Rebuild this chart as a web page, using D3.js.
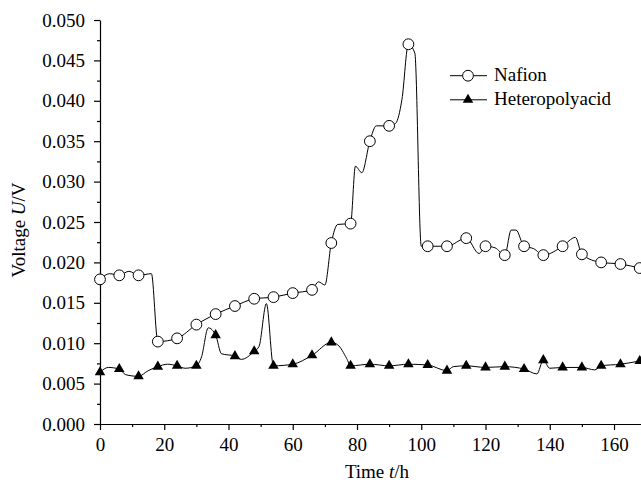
<!DOCTYPE html>
<html>
<head>
<meta charset="utf-8">
<script src="https://cdn.jsdelivr.net/npm/d3@7"></script>
<style>
body{margin:0;background:#fff}
svg{display:block}
</style>
</head>
<body>
<div id="chart"></div>
<script>
// line points, markers drawn every 6 h
var nafionTime = [0,3,6,9,12,16,18,24,30,36,42,48,54,60,66,68,70,72,74,78,79.5,81.5,84,86,90,92,94,96,98,100,102,108,114,118,120,123,126,128,129.5,132,135,138,144,148,150,156,162,168]
var nafionVolt = [0.0179,0.0186,0.0184,0.0189,0.0184,0.0186,0.0102,0.0106,0.0123,0.0136,0.0146,0.0155,0.0157,0.0162,0.0166,0.0176,0.0172,0.0224,0.0247,0.0248,0.0319,0.0311,0.0350,0.0369,0.0369,0.0372,0.0402,0.0470,0.0459,0.0220,0.0220,0.0220,0.0230,0.0211,0.0220,0.0218,0.0209,0.0240,0.0240,0.0220,0.0217,0.0209,0.0220,0.0231,0.0210,0.0200,0.0198,0.0193]
var hpaTime = [0,2.6,6,8,12,15,18,21,24,26.5,30,31.6,33.7,36,37.8,42,44,48,49.5,51.8,54,60,66,72,74,76.8,78,84,90,96,102,108,110,114,120,126,132,136,138,140,144,150,154,156,162,168]
var hpaVolt = [0.0064,0.0070,0.0068,0.0061,0.0059,0.0066,0.0071,0.0074,0.0072,0.0069,0.0072,0.0083,0.0119,0.0110,0.0087,0.0084,0.0080,0.0090,0.0096,0.0149,0.0072,0.0074,0.0085,0.0101,0.0098,0.0081,0.0072,0.0074,0.0072,0.0074,0.0073,0.0066,0.0071,0.0072,0.0070,0.0071,0.0068,0.0062,0.0079,0.0069,0.0070,0.0070,0.0067,0.0072,0.0074,0.0078]
var seriesNames = ["Nafion","Heteropolyacid"]
var xTicks = [0,20,40,60,80,100,120,140,160]
var yTicks = [0,0.005,0.010,0.015,0.020,0.025,0.030,0.035,0.040,0.045,0.050]

var W = 641, H = 482
var m = {l:100, t:20, r:0, b:58}
var fs = "19px"
var ff = "'Liberation Serif', 'Times New Roman', 'DejaVu Serif', serif"

var svg = d3.select("#chart").append("svg").attr("width",W).attr("height",H)

var x = d3.scaleLinear().domain([0,168.4]).range([m.l, W-m.r])
var y = d3.scaleLinear().domain([0,0.05]).range([H-m.b, m.t])

function zip(ts,vs){ return ts.map(function(t,i){ return [t,vs[i]] }) }
var nafion = zip(nafionTime,nafionVolt)
var hpa = zip(hpaTime,hpaVolt)

// axes
var xMinor = d3.range(10,168,20)
var yMinor = d3.range(0.0025,0.05,0.005)

var gx = svg.append("g").attr("transform","translate(0,"+(H-m.b)+")")
gx.call(d3.axisBottom(x).tickValues(xTicks).tickSize(6).tickSizeOuter(0).tickFormat(d3.format("d")))
gx.append("g").call(d3.axisBottom(x).tickValues(xMinor).tickSize(3).tickFormat("")).select(".domain").remove()
gx.selectAll("text").attr("y",14)

var gy = svg.append("g").attr("transform","translate("+m.l+",0)")
gy.call(d3.axisLeft(y).tickValues(yTicks).tickSize(6).tickSizeOuter(0).tickFormat(d3.format(".3f")))
gy.append("g").call(d3.axisLeft(y).tickValues(yMinor).tickSize(3).tickFormat("")).select(".domain").remove()
gy.selectAll("text").attr("x",-15)

svg.selectAll(".domain, .tick line").attr("stroke","#000").attr("stroke-width",1.2)

// titles
var xt = svg.append("text").attr("x",377).attr("y",478).attr("text-anchor","middle")
xt.append("tspan").text("Time ")
xt.append("tspan").style("font-style","italic").text("t")
xt.append("tspan").text("/h")

var yt = svg.append("text").attr("transform","translate(25,230) rotate(-90)").attr("text-anchor","middle")
yt.append("tspan").text("Voltage ")
yt.append("tspan").style("font-style","italic").text("U")
yt.append("tspan").text("/V")

// lines
var line = d3.line().x(function(d){return x(d[0])}).y(function(d){return y(d[1])}).curve(d3.curveMonotoneX)

svg.append("path").datum(hpa).attr("d",line).attr("fill","none").attr("stroke","#000").attr("stroke-width",1)
svg.append("path").datum(nafion).attr("d",line).attr("fill","none").attr("stroke","#000").attr("stroke-width",1)

var tri = d3.symbol().type(d3.symbolTriangle).size(48)

svg.selectAll(".tri").data(hpa.filter(function(d){return d[0]%6===0})).enter().append("path")
	.attr("class","tri")
	.attr("transform",function(d){return "translate("+x(d[0])+","+y(d[1])+")"})
	.attr("d",tri).attr("fill","#000")

svg.selectAll(".circ").data(nafion.filter(function(d){return d[0]%6===0})).enter().append("circle")
	.attr("class","circ")
	.attr("cx",function(d){return x(d[0])}).attr("cy",function(d){return y(d[1])})
	.attr("r",5.4).attr("fill","#fff").attr("stroke","#000").attr("stroke-width",1)

// legend
var lg = svg.append("g")
var rows = [{n:seriesNames[0],y:75.7},{n:seriesNames[1],y:99.8}]
rows.forEach(function(r,i){
	lg.append("line").attr("x1",450).attr("x2",487).attr("y1",r.y).attr("y2",r.y).attr("stroke","#000").attr("stroke-width",1)
	if(i==0){
		lg.append("circle").attr("cx",468).attr("cy",r.y).attr("r",5.4).attr("fill","#fff").attr("stroke","#000")
	}else{
		lg.append("path").attr("transform","translate(468,"+r.y+")").attr("d",tri).attr("fill","#000")
	}
	lg.append("text").attr("x",494).attr("y",r.y+5.3).text(r.n)
})

svg.selectAll("text").attr("font-family",null).style("font-family",ff).style("font-size",fs).style("fill","#000")
</script>
</body>
</html>
